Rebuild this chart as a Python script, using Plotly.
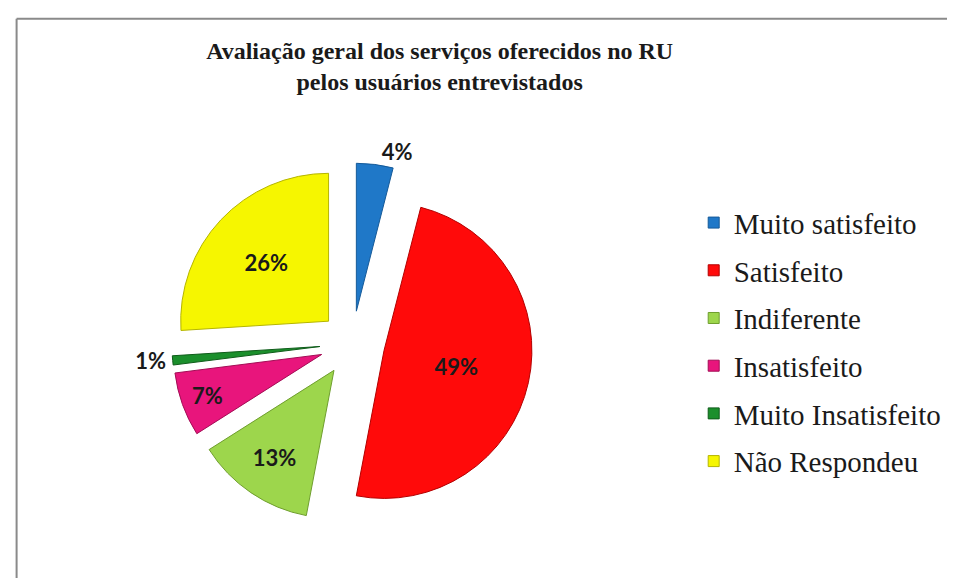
import plotly.graph_objects as go

categorias = [
    "Muito satisfeito",
    "Satisfeito",
    "Indiferente",
    "Insatisfeito",
    "Muito Insatisfeito",
    "Não Respondeu",
]
percentuais = [4, 49, 13, 7, 1, 26]
rotulos = ["4%", "49%", "13%", "7%", "1%", "26%"]

cores = ["#1f78c8", "#ff0a0a", "#9dd64c", "#e8157c", "#1b8f2c", "#f6f600"]
bordas = ["#155a99", "#b30000", "#6f9e2e", "#a30d55", "#0f5c1a", "#b5b500"]
posicoes = ["outside", "inside", "inside", "inside", "outside", "inside"]

SERIF = "Liberation Serif, Times New Roman, serif"

fig = go.Figure()

fig.add_trace(
    go.Pie(
        labels=categorias,
        values=percentuais,
        text=rotulos,
        textinfo="text",
        textposition=posicoes,
        insidetextorientation="horizontal",
        sort=False,
        direction="clockwise",
        rotation=0,
        pull=[0.22] * len(percentuais),
        marker={"colors": cores, "line": {"color": bordas, "width": 1}},
        textfont={"family": "Lato", "size": 22, "color": "#1a1a1a", "weight": "bold"},
        domain={"x": [0.169, 0.552], "y": [0.095, 0.728]},
        showlegend=False,
        hoverinfo="label+percent",
    )
)

# legenda com espaçamento maior: um grupo por categoria
for nome, cor, borda in zip(categorias, cores, bordas):
    fig.add_trace(
        go.Scatter(
            x=[None],
            y=[None],
            mode="markers",
            name=nome,
            legendgroup=nome,
            marker={"symbol": "square", "size": 11, "color": cor,
                    "line": {"color": borda, "width": 1}},
        )
    )

fig.update_layout(
    width=955,
    height=578,
    margin={"l": 0, "r": 0, "t": 0, "b": 0},
    paper_bgcolor="white",
    plot_bgcolor="white",
    title={
        "text": "<b>Avaliação geral dos serviços oferecidos no RU<br>pelos usuários entrevistados</b>",
        "x": 0.452,
        "xanchor": "center",
        "y": 0.912,
        "yanchor": "top",
        "font": {"family": SERIF, "size": 24, "color": "#1a1a1a"},
    },
    legend={
        "x": 0.718,
        "y": 0.668,
        "xanchor": "left",
        "yanchor": "top",
        "font": {"family": SERIF, "size": 29, "color": "#1a1a1a"},
        "tracegroupgap": 7,
        "itemwidth": 30,
        "bgcolor": "rgba(0,0,0,0)",
    },
    xaxis={"visible": False},
    yaxis={"visible": False},
    shapes=[
        {"type": "line", "xref": "paper", "yref": "paper",
         "x0": 0.009, "x1": 1, "y0": 0.981, "y1": 0.981,
         "line": {"color": "#8a8a8a", "width": 2}},
        {"type": "line", "xref": "paper", "yref": "paper",
         "x0": 0.009, "x1": 0.009, "y0": 0, "y1": 0.981,
         "line": {"color": "#8a8a8a", "width": 2}},
    ],
)

fig.write_html("out.html")
